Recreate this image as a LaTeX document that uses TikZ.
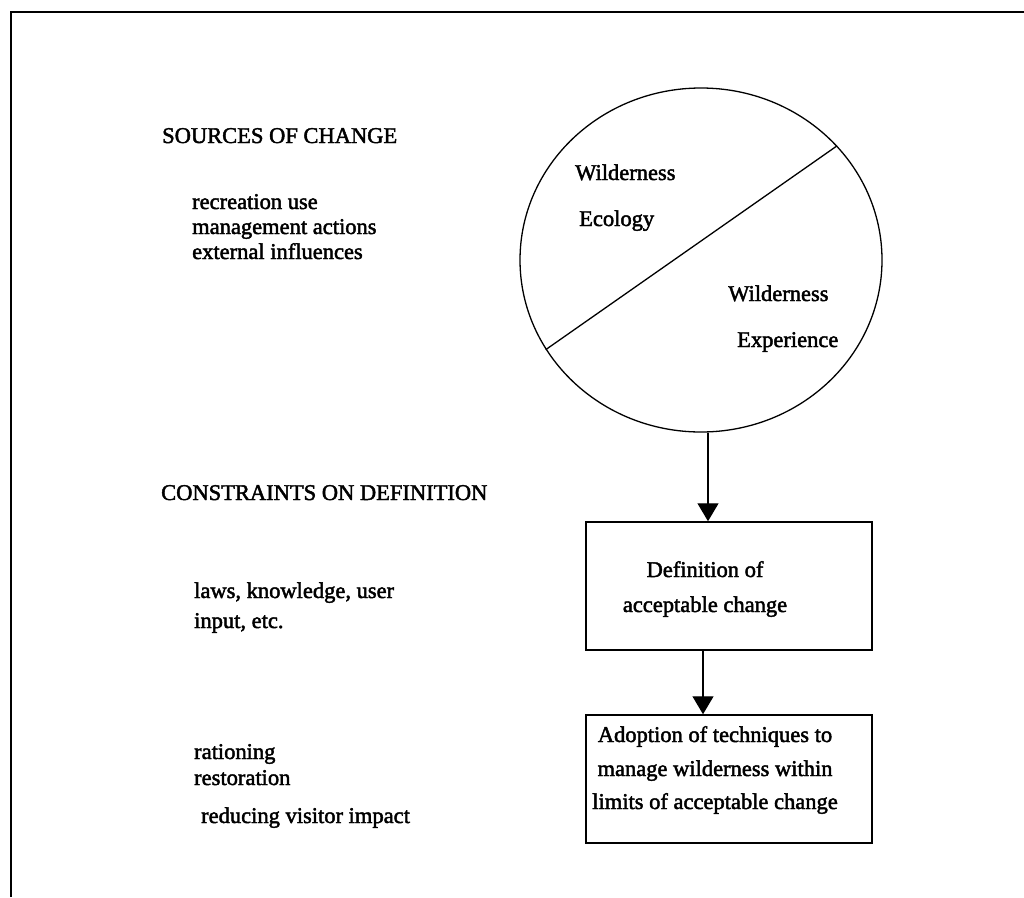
\documentclass[tikz,border=0pt]{standalone}
\usepackage{fontspec}
\setmainfont{Liberation Serif}[FakeBold=2]
\usetikzlibrary{shapes.geometric,arrows.meta,calc}
\begin{document}
\begin{tikzpicture}[x=1pt,y=-1pt,
  lbl/.style={anchor=base west,inner sep=0,font=\fontsize{22.5}{25}\selectfont},
  ctr/.style={anchor=base,inner sep=0,font=\fontsize{22.5}{25}\selectfont},
  boxnode/.style={draw,line width=1.5pt,minimum width=286pt,minimum height=128pt,inner sep=0},
  arr/.style={line width=1.4pt,-{Triangle[width=21pt,length=18pt]}}]
\useasboundingbox (0,0) rectangle (1024,897);
% frame
\draw[line width=2.6pt] (11,897) -- (11,12) -- (1024,12);
% left texts
\node[lbl] (src) at (162,143) {SOURCES OF CHANGE};
\node[lbl] (s1) at (192,209) {recreation use};
\node[lbl] (s2) at (192,234) {management actions};
\node[lbl] (s3) at (192,259) {external influences};
\node[lbl] (con) at (161,500) {CONSTRAINTS ON DEFINITION};
\node[lbl] (c1) at (194,598) {laws, knowledge, user};
\node[lbl] (c2) at (194,628) {input, etc.};
\node[lbl] (t1) at (194,759) {rationing};
\node[lbl] (t2) at (194,785) {restoration};
\node[lbl] (t3) at (201,823) {reducing visitor impact};
% circle
\node[draw,ellipse,line width=1.3pt,minimum width=362pt,minimum height=344pt,inner sep=0] (circ) at (701,260) {};
\draw[line width=1.3pt] (circ.40.4) -- (circ.210.3);
\node[lbl] (w1) at (575,180) {Wilderness};
\node[lbl] (w2) at (579,226) {Ecology};
\node[lbl] (w3) at (728,301) {Wilderness};
\node[lbl] (w4) at (737,347) {Experience};
% boxes
\node[boxnode] (b1) at (729,586) {};
\node[boxnode] (b2) at (729,779) {};
\node[ctr] (d1) at (705,577) {Definition of};
\node[ctr] (d2) at (705,612) {acceptable change};
\node[ctr] (a1) at (715,742) {Adoption of techniques to};
\node[ctr] (a2) at (715,776) {manage wilderness within};
\node[ctr] (a3) at (715,809) {limits of acceptable change};
% arrows
\coordinate (x1) at (708,0);
\coordinate (x2) at (703,0);
\draw[arr] (circ.south -| x1) -- (b1.north -| x1);
\draw[arr] (b1.south -| x2) -- (b2.north -| x2);
\end{tikzpicture}
\end{document}
